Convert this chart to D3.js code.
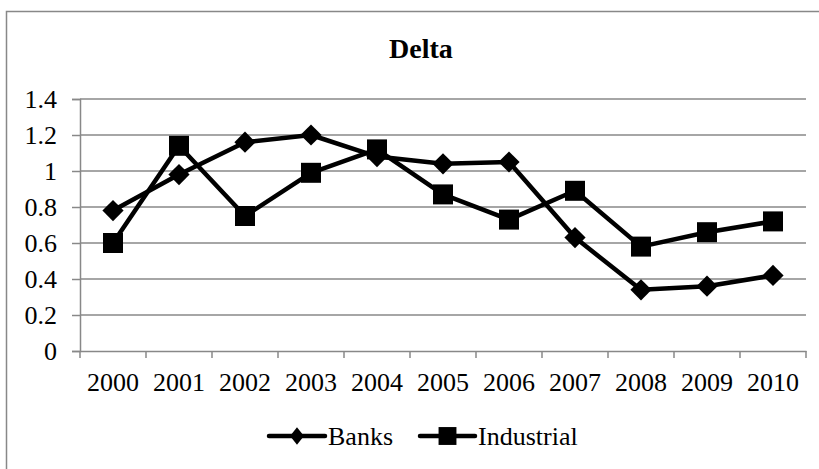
<!DOCTYPE html>
<html>
<head>
<meta charset="utf-8">
<script src="https://cdn.jsdelivr.net/npm/d3@7"></script>
<style>
  html, body { margin: 0; padding: 0; background: #fff; overflow: hidden; }
  svg { display: block; }
</style>
</head>
<body>
<svg id="chart" width="819" height="469"></svg>
<script>
// Data
const years = ["2000", "2001", "2002", "2003", "2004", "2005", "2006", "2007", "2008", "2009", "2010"];
const banks = [0.78, 0.98, 1.16, 1.20, 1.08, 1.04, 1.05, 0.63, 0.34, 0.36, 0.42];
const industrial = [0.60, 1.14, 0.75, 0.99, 1.12, 0.87, 0.73, 0.89, 0.58, 0.66, 0.72];
const yTicks = [0, 0.2, 0.4, 0.6, 0.8, 1, 1.2, 1.4];
const title = "Delta";

(function () {
  // Diamonds are squares turned by 45 degrees
  const seriesList = [
    { name: "Banks", values: banks, size: 225, rotate: 45 },
    { name: "Industrial", values: industrial, size: 400, rotate: 0 }
  ];

  const svg = d3.select("#chart");
  const font = "'Liberation Serif', 'Times New Roman', serif";
  const grey = "#888888";

  // Chart area frame: only its left and top edges fall inside the view
  svg.append("path")
    .attr("d", "M6.5,469 L6.5,11.5 L819,11.5")
    .attr("fill", "none").attr("stroke", grey).attr("stroke-width", 1.5);

  const plotLeft = 80, plotRight = 806, plotTop = 99, plotBottom = 351;

  const x = d3.scaleBand().domain(years).range([plotLeft, plotRight]).padding(0);
  const y = d3.scaleLinear().domain([0, 1.4]).range([plotBottom, plotTop]);

  // Title
  svg.append("text")
    .attr("x", 421).attr("y", 58)
    .attr("text-anchor", "middle")
    .attr("font-family", font).attr("font-weight", "bold")
    .attr("font-size", 28)
    .text(title);

  // Horizontal gridlines
  svg.append("g")
    .selectAll("line")
    .data(yTicks.filter(d => d > 0))
    .join("line")
    .attr("x1", plotLeft).attr("x2", plotRight)
    .attr("y1", d => y(d)).attr("y2", d => y(d))
    .attr("stroke", grey).attr("stroke-width", 1.5);

  // Y axis
  const yAxis = svg.append("g")
    .attr("transform", `translate(${plotLeft},0)`)
    .call(d3.axisLeft(y).tickValues(yTicks).tickFormat(d => String(d)).tickSize(8).tickPadding(15));
  yAxis.attr("font-family", font);
  yAxis.select(".domain").attr("stroke", grey).attr("stroke-width", 1.5);
  yAxis.selectAll(".tick line").attr("stroke", grey).attr("stroke-width", 1.5);
  yAxis.selectAll("text")
    .attr("font-family", font).attr("font-size", 26).attr("fill", "#000");

  // X axis, with ticks at category boundaries
  const xAxis = svg.append("g")
    .attr("transform", `translate(0,${plotBottom})`)
    .call(d3.axisBottom(x).tickSize(0).tickPadding(22));
  xAxis.attr("font-family", font);
  xAxis.select(".domain").attr("stroke", grey).attr("stroke-width", 1.5);
  xAxis.selectAll("text")
    .attr("font-family", font).attr("font-size", 26).attr("fill", "#000");
  svg.append("g")
    .selectAll("line")
    .data(d3.range(years.length + 1))
    .join("line")
    .attr("x1", i => plotLeft + i * x.step()).attr("x2", i => plotLeft + i * x.step())
    .attr("y1", plotBottom).attr("y2", plotBottom + 7)
    .attr("stroke", grey).attr("stroke-width", 1.5);

  // Series lines and markers
  const cx = d => x(d) + x.bandwidth() / 2;
  const line = d3.line().x((v, i) => cx(years[i])).y(v => y(v));

  seriesList.forEach(s => {
    svg.append("path")
      .datum(s.values)
      .attr("d", line)
      .attr("fill", "none")
      .attr("stroke", "#000")
      .attr("stroke-width", 4.5)
      .attr("stroke-linejoin", "round");
  });

  seriesList.forEach(s => {
    svg.append("g")
      .selectAll("path")
      .data(s.values)
      .join("path")
      .attr("transform", (v, i) => `translate(${cx(years[i])},${y(v)}) rotate(${s.rotate})`)
      .attr("d", d3.symbol().type(d3.symbolSquare).size(s.size))
      .attr("fill", "#000");
  });

  // Legend
  const legendItems = [
    { name: "Banks", x0: 269, x1: 325, tx: 328, size: 150, transform: "scale(0.8,1) rotate(45)" },
    { name: "Industrial", x0: 420, x1: 475, tx: 478, size: 320, transform: "" }
  ];
  const ly = 436;
  legendItems.forEach(l => {
    svg.append("line")
      .attr("x1", l.x0).attr("x2", l.x1)
      .attr("y1", ly).attr("y2", ly)
      .attr("stroke", "#000").attr("stroke-width", 4.5)
      .attr("stroke-linecap", "round");
    svg.append("path")
      .attr("transform", `translate(${(l.x0 + l.x1) / 2},${ly}) ${l.transform}`)
      .attr("d", d3.symbol().type(d3.symbolSquare).size(l.size))
      .attr("fill", "#000");
    svg.append("text")
      .attr("x", l.tx).attr("y", ly + 9)
      .attr("font-family", font).attr("font-size", 26)
      .text(l.name);
  });
})();
</script>
</body>
</html>
